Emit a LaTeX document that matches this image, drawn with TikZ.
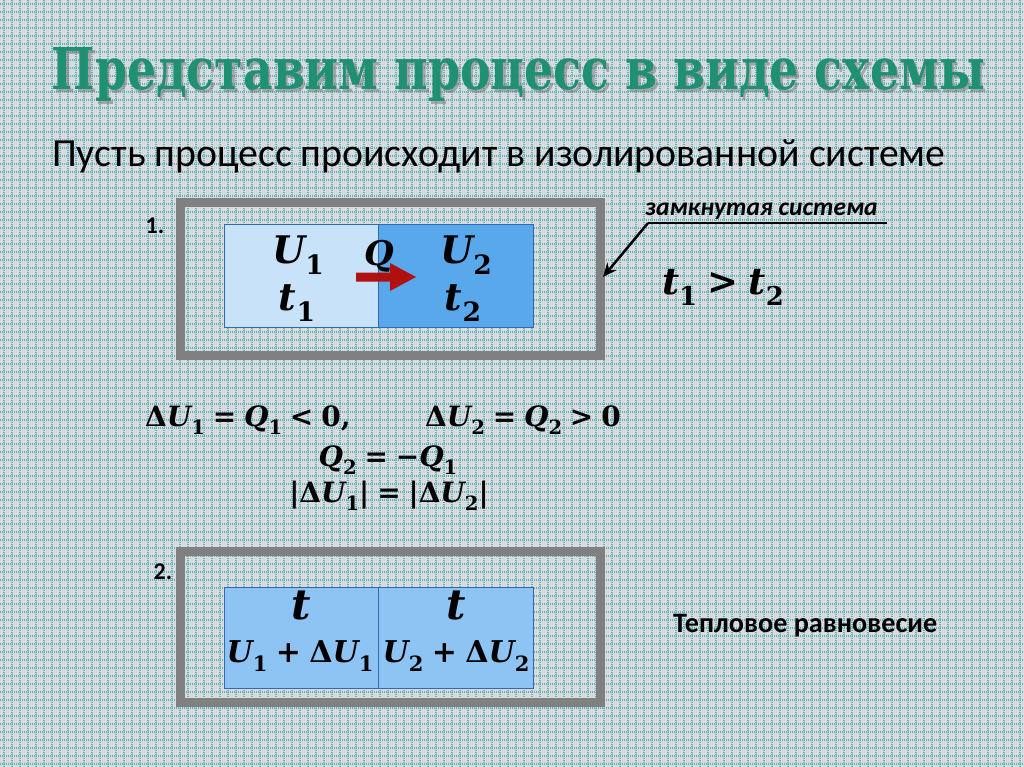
\documentclass[tikz,border=0pt]{standalone}
\usepackage{fontspec}
\usepackage{graphicx}
\setmainfont{Carlito}
\newfontfamily\titlefont{DejaVu Serif}
\newfontfamily\mvfont{DejaVu Serif}
\usetikzlibrary{arrows.meta}
\definecolor{bgc}{HTML}{D9DADC}
\definecolor{gridc}{HTML}{3A9FAE}
\definecolor{titlec}{HTML}{1F9072}
\definecolor{boxgray}{HTML}{808080}
\definecolor{lblue}{HTML}{C8E2FA}
\definecolor{dblue}{HTML}{5AA8EC}
\definecolor{mblue}{HTML}{8EC4F4}
\definecolor{bline}{HTML}{2E6AB0}
\definecolor{arrowred}{HTML}{B01010}
\newcommand\V[1]{{\itshape #1}}
\newcommand\Sb[1]{\raisebox{-0.3em}{\scalebox{0.7}{\upshape #1}}}
\newcommand\Rl[1]{\hspace{0.28em}#1\hspace{0.28em}}
\begin{document}
\begin{tikzpicture}[x=1pt,y=-1pt,
  mtxt/.style={font=\mvfont\bfseries\fontsize{38}{42}\selectfont, inner sep=0pt},
  eqtxt/.style={font=\mvfont\bfseries\fontsize{28}{32}\selectfont, inner sep=0pt},
  outerbox/.style={draw=boxgray, line width=9pt},
  cell/.style={draw=bline, line width=1pt}]
\useasboundingbox (0,0) rectangle (1024,767);
\fill[bgc] (0,0) rectangle (1024,767);
\foreach \i in {4,12,...,1024} \draw[gridc!80, line width=1.1pt, dash pattern=on 1pt off 1pt] (\i,0) -- (\i,767);
\foreach \j in {4,12,...,767} \draw[gridc!80, line width=1.1pt, dash pattern=on 1pt off 1pt] (0,\j) -- (1024,\j);

% title
\node[inner sep=0pt, anchor=base, text=black!60, opacity=0.45] (titleshadow) at (521,92.5) {\titlefont\bfseries\resizebox{933pt}{42pt}{Представим процесс в виде схемы}};
\node[inner sep=0pt, anchor=base, text=titlec] (title) at (518.5,89.5) {\titlefont\bfseries\resizebox{933pt}{42pt}{Представим процесс в виде схемы}};

% subtitle
\node[inner sep=0pt, anchor=base west, font=\fontsize{39.8}{45}\selectfont] (sub) at (52,167) {Пусть процесс происходит в изолированной системе};

% box 1
\draw[outerbox] (180.5,202.5) rectangle (600.5,355.5);
\node[inner sep=0pt, font=\bfseries\fontsize{24}{28}\selectfont] (n1) at (155,226) {1.};
\fill[lblue] (224,225) rectangle (378,327);
\fill[dblue] (378,225) rectangle (533,327);
\draw[cell] (224,225) rectangle (533,327);
\draw[cell] (378,225) -- (378,327);
\node[mtxt] (U1) at (298,255) {\V{U}\Sb{1}};
\node[mtxt] (t1) at (297,303) {\V{t}\Sb{1}};
\node[mtxt] (U2) at (466,255) {\V{U}\Sb{2}};
\node[mtxt] (t2) at (463,303) {\V{t}\Sb{2}};
\node[mtxt, font=\mvfont\bfseries\fontsize{34}{38}\selectfont] (Q) at (379,256) {\V{Q}};
\fill[arrowred] (356,272.5) -- (390,272.5) -- (390,263) -- (416,277) -- (390,291) -- (390,281.5) -- (356,281.5) -- cycle;

% label closed system
\node[inner sep=0pt, anchor=base west, font=\bfseries\itshape\fontsize{25.5}{30}\selectfont] (zs) at (645,216) {замкнутая система};
\coordinate (lk) at (648,223);
\coordinate (le) at (887,223);
\coordinate (tip) at (603,277);
\draw[line width=2.5pt] (le) -- (lk);
\draw[line width=2.5pt, -{Stealth[length=14pt,width=12pt]}] (lk) -- (tip);
\node[mtxt, font=\mvfont\bfseries\fontsize{37}{42}\selectfont] (ineq) at (723,287) {\V{t}\Sb{1}\Rl{>}\V{t}\Sb{2}};

% equations
\node[eqtxt, anchor=west] (eq1a) at (145,420) {Δ\V{U}\Sb{1}\Rl{=}\V{Q}\Sb{1}\Rl{<}0,};
\node[eqtxt, anchor=west] (eq1b) at (425,420) {Δ\V{U}\Sb{2}\Rl{=}\V{Q}\Sb{2}\Rl{>}0};
\node[eqtxt] (eq2) at (388,460) {\V{Q}\Sb{2}\Rl{=}−\V{Q}\Sb{1}};
\node[eqtxt] (eq3) at (389,496) {|Δ\V{U}\Sb{1}|\Rl{=}|Δ\V{U}\Sb{2}|};

% box 2
\draw[outerbox] (180.5,551.5) rectangle (600.5,702.5);
\node[inner sep=0pt, font=\bfseries\fontsize{24}{28}\selectfont] (n2) at (163,572) {2.};
\fill[mblue] (224,587) rectangle (533,688);
\draw[cell] (224,587) rectangle (533,688);
\draw[cell] (378,587) -- (378,688);
\node[mtxt, font=\mvfont\bfseries\fontsize{42}{46}\selectfont] (tA) at (301,606) {\V{t}};
\node[mtxt, font=\mvfont\bfseries\fontsize{42}{46}\selectfont] (tB) at (456,606) {\V{t}};
\node[mtxt, font=\mvfont\bfseries\fontsize{30}{34}\selectfont] (sA) at (300,656) {\V{U}\Sb{1}\Rl{+}Δ\V{U}\Sb{1}};
\node[mtxt, font=\mvfont\bfseries\fontsize{30}{34}\selectfont] (sB) at (456,656) {\V{U}\Sb{2}\Rl{+}Δ\V{U}\Sb{2}};

\node[inner sep=0pt, anchor=west, font=\bfseries\fontsize{28.2}{32}\selectfont] (teq) at (673,626) {Тепловое равновесие};
\end{tikzpicture}
\end{document}
